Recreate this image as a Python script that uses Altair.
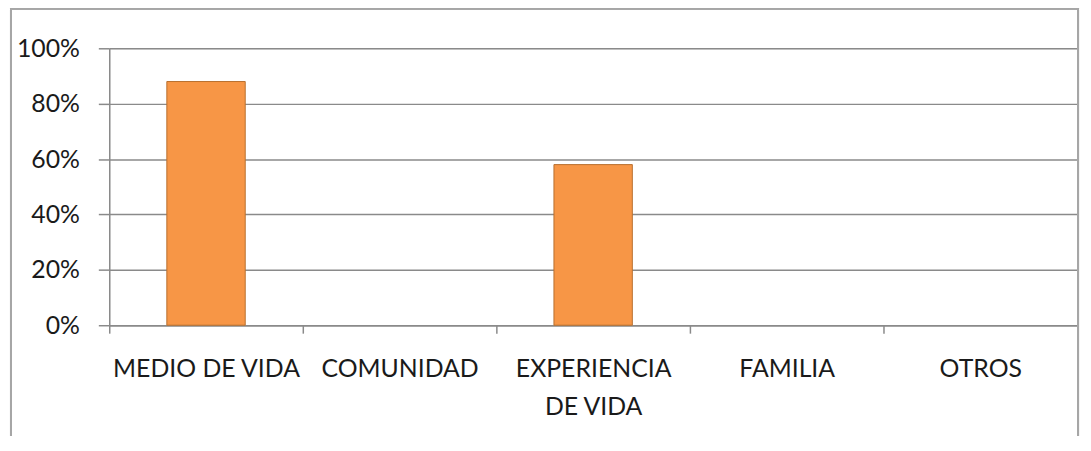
import altair as alt
import pandas as pd

categories = ["MEDIO DE VIDA", "COMUNIDAD", "EXPERIENCIA DE VIDA", "FAMILIA", "OTROS"]
values = [0.88, 0.0, 0.58, 0.0, 0.0]
y_ticks = [0, 0.2, 0.4, 0.6, 0.8, 1.0]

df = pd.DataFrame({"cat": categories, "val": values})

FONT = "Lato"
GRID = "#8a8a8a"

bars = alt.Chart(df).mark_bar(
    color="#F79646", stroke="#B8702F", strokeWidth=1
).encode(
    x=alt.X(
        "cat:N", sort=categories, title=None,
        scale=alt.Scale(domain=categories, paddingInner=0.595, paddingOuter=0.2975),
        axis=alt.Axis(
            labelAngle=0, bandPosition=0, tickOffset=-58, labelOffset=58,
            tickSize=8, tickColor=GRID, tickWidth=1.5,
            domainColor=GRID, domainWidth=1.5,
            labelFont=FONT, labelFontSize=25, labelColor="#1a1a1a",
            labelBaseline="alphabetic", labelPadding=44, labelLineHeight=38,
            labelExpr="datum.label == 'EXPERIENCIA DE VIDA' ? ['EXPERIENCIA', 'DE VIDA'] : datum.label",
            labelLimit=400,
        ),
    ),
    y=alt.Y(
        "val:Q", title=None,
        scale=alt.Scale(domain=[0, 1], nice=False),
        axis=alt.Axis(
            values=y_ticks, format=".0%",
            tickSize=11, tickColor=GRID, tickWidth=1.5,
            domainColor=GRID, domainWidth=1.5,
            gridColor=GRID, gridWidth=1.5, grid=True,
            labelFont=FONT, labelFontSize=25, labelColor="#1a1a1a",
            labelPadding=19,
        ),
    ),
    strokeOpacity=alt.condition("datum.val > 0", alt.value(1), alt.value(0)),
)

frame = alt.Chart(df).mark_rect(
    fill=None, stroke="#a6a6a6", strokeWidth=2
).encode(
    x=alt.value(-99), x2=alt.value(976), y=alt.value(-40), y2=alt.value(430)
)

chart = alt.layer(frame, bars).properties(
    width=975, height=279,
    autosize=alt.AutoSizeParams(type="none"),
    padding={"left": 102, "top": 39, "right": 6, "bottom": 110},
).configure_view(fill="#FDEDE8", stroke=None).configure(background="white")

chart.save("out.html", embed_options={"renderer": "svg", "actions": False})
